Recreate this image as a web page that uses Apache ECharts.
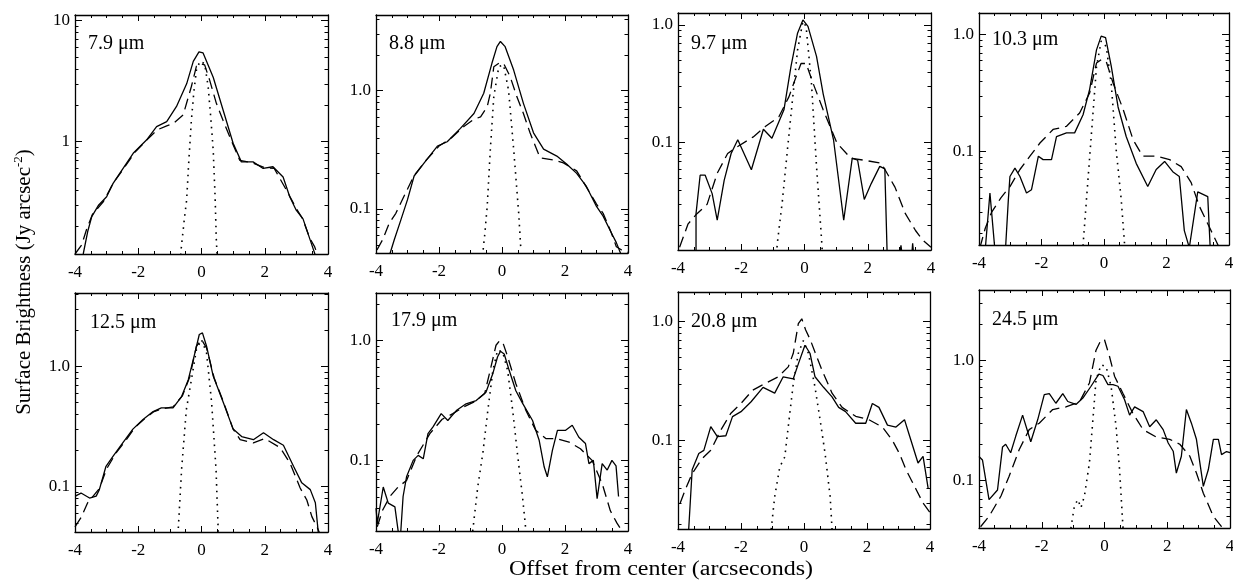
<!DOCTYPE html>
<html><head><meta charset="utf-8">
<script src="https://cdn.jsdelivr.net/npm/echarts@6/dist/echarts.min.js"></script>
<style>html,body{margin:0;padding:0;background:#fff}#c{width:1233px;height:580px}</style>
</head><body><div id="c"></div>
<script>
// ---------------- data ----------------
const panelLabels = ['7.9 μm', '8.8 μm', '9.7 μm', '10.3 μm', '12.5 μm', '17.9 μm', '20.8 μm', '24.5 μm'];
const xTicks = [-4, -2, 0, 2, 4];
const yMins = [0.118, 0.0425, 0.0123, 0.0158, 0.0417, 0.0258, 0.0182, 0.040];
const yMaxs = [11.1, 4.35, 1.26, 1.53, 4.08, 2.48, 1.76, 3.88];
const yTickDigits = [0, 1, 1, 1, 1, 1, 1, 1];
const xTitle = 'Offset from center (arcseconds)';
const yTitle = 'Surface Brightness (Jy arcsec{s|-2})';

const p1Solid = [[-3.9,0.09],[-3.74,0.118],[-3.6,0.18],[-3.47,0.24],[-3.25,0.3],[-3.0,0.35],[-2.8,0.45],[-2.58,0.55],[-2.16,0.80],[-1.74,1.03],[-1.42,1.33],[-1.1,1.46],[-0.79,1.95],[-0.47,3.0],[-0.26,4.6],[-0.08,5.5],[0.05,5.4],[0.37,3.4],[0.68,1.83],[1.0,0.97],[1.26,0.68],[1.63,0.68],[1.95,0.60],[2.26,0.62],[2.58,0.51],[2.79,0.35],[3.0,0.27],[3.21,0.23],[3.47,0.145],[3.6,0.115],[3.7,0.09]];
const p1Dashed = [[-4,0.118],[-3.79,0.14],[-3.63,0.19],[-3.45,0.25],[-3.1,0.32],[-2.8,0.45],[-2.5,0.58],[-2.1,0.82],[-1.7,1.05],[-1.4,1.25],[-1.1,1.35],[-0.89,1.41],[-0.58,1.66],[-0.32,2.85],[-0.16,4.2],[-0.05,4.4],[0.1,4.3],[0.26,3.2],[0.47,2.07],[0.68,1.5],[0.89,1.1],[1.21,0.7],[1.6,0.67],[2.0,0.61],[2.3,0.6],[2.68,0.4],[3.0,0.28],[3.2,0.23],[3.42,0.16],[3.58,0.135],[3.7,0.11]];
const p1Dotted = [[-0.7,0.09],[-0.63,0.14],[-0.55,0.22],[-0.47,0.33],[-0.4,0.7],[-0.32,1.5],[-0.24,2.6],[-0.16,3.9],[-0.05,4.6],[0.1,4.4],[0.21,2.85],[0.3,1.5],[0.37,0.85],[0.43,0.35],[0.47,0.15],[0.52,0.09]];

const p2Solid = [[-3.62,0.035],[-3.55,0.0425],[-3.42,0.055],[-3.21,0.081],[-3.0,0.12],[-2.79,0.19],[-2.47,0.245],[-2.05,0.34],[-1.74,0.37],[-1.32,0.48],[-0.89,0.64],[-0.58,0.95],[-0.32,1.7],[-0.16,2.35],[-0.05,2.6],[0.1,2.35],[0.37,1.49],[0.68,0.78],[1.0,0.44],[1.32,0.32],[1.74,0.28],[2.05,0.24],[2.37,0.20],[2.68,0.155],[3.0,0.105],[3.21,0.087],[3.47,0.063],[3.63,0.052],[3.8,0.04]];
const p2Dashed = [[-3.97,0.045],[-3.79,0.055],[-3.58,0.076],[-3.37,0.092],[-3.1,0.13],[-2.8,0.19],[-2.4,0.26],[-2.0,0.34],[-1.6,0.4],[-1.2,0.5],[-0.9,0.57],[-0.68,0.60],[-0.47,0.73],[-0.37,0.95],[-0.26,1.59],[-0.1,1.7],[0.05,1.7],[0.26,1.31],[0.47,0.89],[0.68,0.64],[0.89,0.44],[1.21,0.27],[1.63,0.26],[1.95,0.245],[2.37,0.21],[2.7,0.15],[3.0,0.11],[3.21,0.092],[3.45,0.065],[3.63,0.048],[3.8,0.045],[4,0.043]];
const p2Dotted = [[-0.62,0.04],[-0.55,0.06],[-0.47,0.105],[-0.37,0.32],[-0.26,0.89],[-0.1,1.6],[0.05,1.65],[0.21,1.0],[0.37,0.32],[0.53,0.092],[0.6,0.045]];

const p3Solid = [[-3.43,0.005],[-3.43,0.025],[-3.3,0.053],[-3.14,0.053],[-2.92,0.037],[-2.76,0.022],[-2.54,0.048],[-2.32,0.081],[-2.11,0.106],[-1.68,0.059],[-1.3,0.13],[-1.03,0.109],[-0.65,0.19],[-0.43,0.44],[-0.22,0.85],[-0.05,1.10],[0.11,0.97],[0.38,0.54],[0.59,0.26],[0.92,0.105],[1.24,0.022],[1.51,0.074],[1.68,0.071],[1.89,0.033],[2.11,0.045],[2.38,0.063],[2.54,0.06],[2.65,0.005],[2.95,0.008],[3.05,0.0135],[3.15,0.008],[3.35,0.008],[3.42,0.014],[3.5,0.008]];
const p3Dashed = [[-3.95,0.013],[-3.68,0.0205],[-3.4,0.025],[-3.08,0.030],[-2.76,0.055],[-2.43,0.081],[-2.11,0.093],[-1.62,0.112],[-1.24,0.137],[-0.81,0.166],[-0.49,0.246],[-0.27,0.36],[-0.11,0.47],[0.05,0.47],[0.27,0.32],[0.59,0.19],[0.81,0.137],[1.03,0.099],[1.46,0.074],[1.89,0.071],[2.43,0.067],[2.86,0.042],[3.19,0.025],[3.51,0.018],[3.73,0.015],[4,0.013]];
const p3Dotted = [[-0.9,0.01],[-0.86,0.014],[-0.7,0.032],[-0.54,0.087],[-0.38,0.23],[-0.22,0.61],[-0.05,1.07],[0.05,0.97],[0.22,0.32],[0.38,0.063],[0.54,0.015],[0.58,0.01]];

const p4Solid = [[-3.85,0.01],[-3.65,0.044],[-3.44,0.01],[-3.17,0.012],[-3.06,0.039],[-3.01,0.061],[-2.85,0.072],[-2.69,0.061],[-2.48,0.044],[-2.32,0.047],[-2.1,0.091],[-1.95,0.085],[-1.68,0.085],[-1.52,0.134],[-1.2,0.144],[-0.94,0.144],[-0.67,0.206],[-0.46,0.34],[-0.24,0.74],[-0.09,0.97],[0.05,0.94],[0.23,0.54],[0.45,0.24],[0.71,0.134],[1.03,0.079],[1.4,0.05],[1.67,0.070],[1.94,0.082],[2.2,0.067],[2.41,0.061],[2.57,0.021],[2.73,0.015],[3.0,0.045],[3.32,0.041],[3.43,0.01]];
const p4Dashed = [[-3.97,0.015],[-3.8,0.022],[-3.6,0.030],[-3.3,0.04],[-3.01,0.050],[-2.69,0.070],[-2.37,0.091],[-2.05,0.118],[-1.63,0.154],[-1.2,0.164],[-0.78,0.213],[-0.46,0.316],[-0.24,0.57],[-0.09,0.61],[0.07,0.59],[0.29,0.385],[0.61,0.23],[0.93,0.126],[1.24,0.091],[1.67,0.091],[2.1,0.085],[2.47,0.074],[2.79,0.054],[3.05,0.034],[3.32,0.024],[3.59,0.017],[3.74,0.014]];
const p4Dotted = [[-0.72,0.012],[-0.67,0.0158],[-0.56,0.039],[-0.4,0.144],[-0.24,0.53],[-0.09,0.88],[0.07,0.79],[0.23,0.385],[0.39,0.103],[0.55,0.039],[0.66,0.0158],[0.7,0.012]];

const p5Solid = [[-3.99,0.083],[-3.81,0.088],[-3.54,0.08],[-3.33,0.083],[-3.23,0.094],[-3.02,0.147],[-2.8,0.178],[-2.49,0.23],[-2.17,0.30],[-1.85,0.36],[-1.53,0.42],[-1.27,0.45],[-0.9,0.45],[-0.63,0.56],[-0.42,0.77],[-0.21,1.29],[-0.07,1.84],[0.03,1.9],[0.16,1.47],[0.37,0.83],[0.69,0.50],[1.0,0.30],[1.27,0.26],[1.64,0.245],[1.96,0.28],[2.28,0.245],[2.59,0.22],[2.91,0.147],[3.17,0.107],[3.44,0.094],[3.6,0.073],[3.72,0.035]];
const p5Dashed = [[-4,0.046],[-3.81,0.055],[-3.6,0.073],[-3.23,0.096],[-3.0,0.14],[-2.7,0.19],[-2.4,0.24],[-2.1,0.31],[-1.8,0.365],[-1.5,0.42],[-1.2,0.445],[-0.9,0.46],[-0.6,0.57],[-0.37,0.82],[-0.16,1.47],[0,1.67],[0.16,1.42],[0.4,0.8],[0.7,0.5],[1.0,0.3],[1.22,0.245],[1.64,0.23],[2.0,0.25],[2.49,0.21],[2.8,0.156],[3.12,0.097],[3.33,0.077],[3.49,0.056],[3.65,0.046],[3.75,0.04]];
const p5Dotted = [[-0.78,0.035],[-0.74,0.0417],[-0.63,0.138],[-0.48,0.435],[-0.32,0.77],[-0.16,1.38],[0,1.67],[0.16,1.29],[0.32,0.50],[0.46,0.138],[0.53,0.0417],[0.56,0.035]];

const p6Solid = [[-4,0.04],[-3.96,0.03],[-3.77,0.06],[-3.61,0.044],[-3.4,0.041],[-3.24,0.02],[-3.14,0.05],[-3.03,0.073],[-2.82,0.1],[-2.66,0.11],[-2.5,0.103],[-2.35,0.167],[-2.19,0.19],[-1.93,0.245],[-1.72,0.215],[-1.45,0.26],[-1.14,0.296],[-0.82,0.315],[-0.51,0.37],[-0.29,0.53],[-0.14,0.73],[-0.05,0.81],[0.07,0.77],[0.23,0.56],[0.44,0.38],[0.65,0.30],[0.97,0.215],[1.18,0.147],[1.34,0.088],[1.44,0.073],[1.6,0.121],[1.76,0.178],[2.02,0.178],[2.23,0.196],[2.44,0.156],[2.65,0.138],[2.76,0.094],[2.9,0.1],[3.02,0.048],[3.18,0.094],[3.34,0.083],[3.49,0.10],[3.62,0.09],[3.7,0.05]];
const p6Dashed = [[-3.96,0.028],[-3.8,0.038],[-3.56,0.05],[-3.3,0.06],[-3.03,0.068],[-2.7,0.11],[-2.29,0.167],[-1.9,0.22],[-1.56,0.245],[-1.2,0.28],[-0.85,0.31],[-0.55,0.36],[-0.35,0.6],[-0.19,0.91],[-0.08,0.99],[0.02,0.97],[0.18,0.73],[0.44,0.435],[0.76,0.26],[1.07,0.178],[1.39,0.152],[1.71,0.152],[2.13,0.142],[2.49,0.125],[2.86,0.1],[3.18,0.064],[3.44,0.038],[3.65,0.03],[3.8,0.026]];
const p6Dotted = [[-0.97,0.02],[-0.93,0.0258],[-0.77,0.06],[-0.61,0.114],[-0.45,0.26],[-0.29,0.56],[-0.14,0.83],[0.02,0.8],[0.18,0.56],[0.34,0.26],[0.49,0.114],[0.65,0.05],[0.76,0.0258],[0.8,0.02]];

const p7Solid = [[-3.7,0.012],[-3.66,0.0182],[-3.55,0.057],[-3.34,0.078],[-3.18,0.083],[-2.96,0.131],[-2.75,0.108],[-2.48,0.11],[-2.27,0.159],[-2.0,0.175],[-1.68,0.212],[-1.3,0.28],[-0.93,0.25],[-0.66,0.343],[-0.34,0.33],[-0.18,0.44],[0.03,0.63],[0.19,0.54],[0.35,0.343],[0.62,0.28],[0.89,0.233],[1.1,0.19],[1.32,0.175],[1.64,0.14],[1.96,0.14],[2.17,0.205],[2.38,0.19],[2.65,0.135],[2.92,0.13],[3.19,0.15],[3.35,0.11],[3.62,0.065],[3.78,0.074],[3.94,0.04]];
const p7Dashed = [[-3.93,0.030],[-3.75,0.04],[-3.55,0.053],[-3.25,0.07],[-2.96,0.083],[-2.64,0.123],[-2.32,0.17],[-2.0,0.205],[-1.63,0.265],[-1.25,0.30],[-0.82,0.343],[-0.5,0.415],[-0.34,0.54],[-0.18,0.955],[-0.07,1.05],[0.05,0.85],[0.2,0.7],[0.35,0.55],[0.57,0.39],[0.89,0.25],[1.21,0.19],[1.64,0.16],[2.06,0.15],[2.49,0.13],[2.81,0.10],[3.03,0.078],[3.24,0.057],[3.56,0.039],[3.78,0.03],[4,0.025]];
const p7Dotted = [[-1.08,0.014],[-1.04,0.0182],[-0.93,0.034],[-0.77,0.06],[-0.61,0.073],[-0.5,0.131],[-0.34,0.30],[-0.18,0.54],[-0.02,0.69],[0.14,0.54],[0.35,0.28],[0.51,0.15],[0.67,0.078],[0.83,0.034],[0.89,0.0182],[0.92,0.014]];

const p8Solid = [[-4.0,0.158],[-3.89,0.148],[-3.68,0.069],[-3.41,0.083],[-3.25,0.19],[-3.15,0.2],[-2.99,0.17],[-2.83,0.233],[-2.61,0.35],[-2.35,0.21],[-2.13,0.32],[-1.92,0.52],[-1.76,0.53],[-1.55,0.44],[-1.33,0.53],[-1.17,0.455],[-0.91,0.43],[-0.69,0.486],[-0.43,0.61],[-0.18,0.77],[-0.05,0.75],[0.11,0.63],[0.27,0.63],[0.43,0.61],[0.64,0.47],[0.8,0.35],[0.96,0.41],[1.23,0.375],[1.44,0.28],[1.65,0.32],[1.87,0.265],[2.03,0.205],[2.19,0.175],[2.29,0.115],[2.45,0.159],[2.61,0.39],[2.77,0.3],[2.93,0.22],[3.15,0.089],[3.31,0.123],[3.47,0.22],[3.63,0.22],[3.73,0.164],[3.89,0.174],[4.0,0.17]];
const p8Dashed = [[-3.95,0.041],[-3.68,0.05],[-3.3,0.074],[-3.04,0.108],[-2.72,0.18],[-2.4,0.265],[-2.08,0.30],[-1.65,0.39],[-1.23,0.41],[-0.8,0.45],[-0.48,0.65],[-0.27,1.22],[-0.11,1.49],[0,1.49],[0.16,1.08],[0.32,0.74],[0.59,0.53],[0.91,0.36],[1.23,0.265],[1.65,0.23],[2.08,0.22],[2.4,0.2],[2.72,0.159],[2.93,0.115],[3.15,0.078],[3.47,0.05],[3.73,0.041],[3.85,0.035]];
const p8Dotted = [[-1.1,0.035],[-1.07,0.04],[-0.96,0.061],[-0.85,0.069],[-0.75,0.059],[-0.64,0.074],[-0.48,0.14],[-0.37,0.32],[-0.27,0.69],[-0.11,0.92],[0.05,0.89],[0.21,0.61],[0.37,0.28],[0.48,0.123],[0.59,0.04],[0.62,0.035]];

const solids = [p1Solid, p2Solid, p3Solid, p4Solid, p5Solid, p6Solid, p7Solid, p8Solid];
const dasheds = [p1Dashed, p2Dashed, p3Dashed, p4Dashed, p5Dashed, p6Dashed, p7Dashed, p8Dashed];
const dotteds = [p1Dotted, p2Dotted, p3Dotted, p4Dotted, p5Dotted, p6Dotted, p7Dotted, p8Dotted];

// ---------------- layout ----------------
const boxes = [ // left, top, right, bottom (px)
  [75, 15, 328, 254], [376, 15, 628, 253], [678, 13, 931, 250], [979, 13, 1229, 245],
  [75, 293, 328, 532], [376, 293, 628, 531], [678, 292, 930, 529], [979, 290, 1230, 528]
];
const labelPos = [[88,44],[389,44],[691,44],[992,40],[90,323],[391,321],[691,322],[992,320]];
const FONT = '"Liberation Serif","Times New Roman",Times,serif';
const BLACK = '#000';

function logMinorTicks(min, max) {
  const out = [];
  for (let e = Math.floor(Math.log10(min)); e <= Math.ceil(Math.log10(max)); e++) {
    for (let m = 2; m <= 9; m++) {
      const v = m * Math.pow(10, e);
      if (v > min && v < max) out.push([0, v]);
    }
  }
  return out;
}
function isPow10(v) { const l = Math.log10(v); return Math.abs(l - Math.round(l)) < 1e-6; }

const grid = [], xAxis = [], yAxis = [], series = [], graphic = [];
boxes.forEach((b, i) => {
  grid.push({ left: b[0], top: b[1], width: b[2] - b[0], height: b[3] - b[1], containLabel: false, outerBoundsMode: 'none' });
  const xBase = {
    gridIndex: i, type: 'value', min: xTicks[0], max: xTicks[xTicks.length - 1], interval: 2,
    axisLine: { show: true, onZero: false, lineStyle: { color: BLACK, width: 1.3 } },
    axisTick: { show: true, inside: true, length: 6, lineStyle: { color: BLACK, width: 1 } },
    minorTick: { show: true, splitNumber: 4, length: 3, lineStyle: { color: BLACK, width: 1 } },
    splitLine: { show: false }, minorSplitLine: { show: false }
  };
  xAxis.push(Object.assign({}, xBase, { position: 'bottom',
    axisLabel: { show: true, color: BLACK, fontFamily: FONT, fontSize: 17, margin: 10, formatter: v => String(v) } }));
  xAxis.push(Object.assign({}, xBase, { position: 'top', axisLabel: { show: false } }));
  const digits = yTickDigits[i];
  const yBase = {
    gridIndex: i, type: 'log', logBase: 10, min: yMins[i], max: yMaxs[i],
    axisLine: { show: true, onZero: false, lineStyle: { color: BLACK, width: 1.3 } },
    axisTick: { show: true, inside: true, length: 7, lineStyle: { color: BLACK, width: 1 } },
    minorTick: { show: false }, splitLine: { show: false }
  };
  yAxis.push(Object.assign({}, yBase, { position: 'left',
    axisLabel: { show: true, color: BLACK, fontFamily: FONT, fontSize: 17, margin: 5, showMinLabel: true, showMaxLabel: true,
      formatter: v => isPow10(v) ? (digits ? v.toFixed(digits) : String(Math.round(v))) : '' } }));
  yAxis.push(Object.assign({}, yBase, { position: 'right', axisLabel: { show: false } }));

  const xi = 2 * i, yi = 2 * i;
  series.push({ type: 'line', xAxisIndex: xi, yAxisIndex: yi, data: solids[i], symbol: 'none', clip: true,
    lineStyle: { color: BLACK, width: 1.3 }, silent: true, z: 3 });
  series.push({ type: 'line', xAxisIndex: xi, yAxisIndex: yi, data: dasheds[i], symbol: 'none', clip: true,
    lineStyle: { color: BLACK, width: 1.3, type: [11, 6] }, silent: true, z: 2 });
  series.push({ type: 'line', xAxisIndex: xi, yAxisIndex: yi, data: dotteds[i], symbol: 'none', clip: true,
    lineStyle: { color: BLACK, width: 1.6, type: [1.6, 5] }, silent: true, z: 2 });
  series.push({ type: 'custom', xAxisIndex: xi, yAxisIndex: yi, data: logMinorTicks(yMins[i], yMaxs[i]), clip: false, silent: true,
    renderItem: (params, api) => {
      const v = api.value(1);
      const L = api.coord([xTicks[0], v]);
      const R = api.coord([xTicks[xTicks.length - 1], v]);
      const y = Math.round(L[1]) + 0.5;
      return { type: 'group', children: [
        { type: 'line', shape: { x1: L[0], y1: y, x2: L[0] + 3.5, y2: y }, style: { stroke: BLACK, lineWidth: 1 } },
        { type: 'line', shape: { x1: R[0], y1: y, x2: R[0] - 3.5, y2: y }, style: { stroke: BLACK, lineWidth: 1 } }
      ] };
    } });

  graphic.push({ type: 'text', x: labelPos[i][0], y: labelPos[i][1], silent: true,
    style: { text: panelLabels[i], fontFamily: FONT, fontSize: 20, fill: BLACK, align: 'left', verticalAlign: 'middle' } });
});

graphic.push({ type: 'text', x: 661, y: 570, scaleX: 1.2, silent: true,
  style: { text: xTitle, fontFamily: FONT, fontSize: 20, fill: BLACK, align: 'center', verticalAlign: 'middle' } });
graphic.push({ type: 'text', x: 24, y: 282, rotation: Math.PI / 2, silent: true,
  style: { text: yTitle, fontFamily: FONT, fontSize: 21, fill: BLACK, align: 'center', verticalAlign: 'middle',
    rich: { s: { fontFamily: FONT, fontSize: 13, fill: BLACK, padding: [0, 0, 10, 0] } } } });

const chart = echarts.init(document.getElementById('c'), null, { renderer: 'canvas' });
chart.setOption({ animation: false, backgroundColor: '#fff', grid, xAxis, yAxis, series, graphic });
</script></body></html>
